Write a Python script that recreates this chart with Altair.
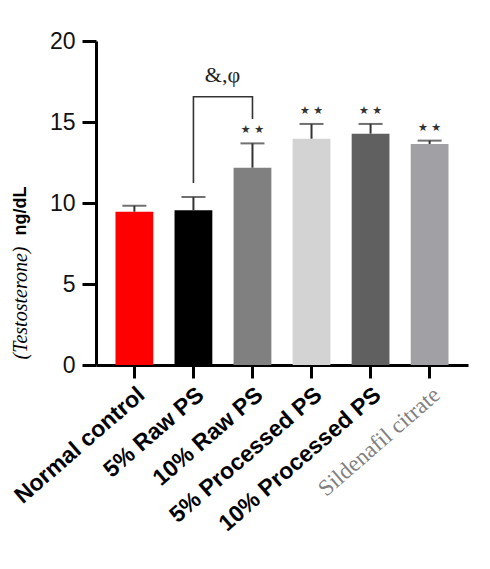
import altair as alt
import pandas as pd

groups = ["Normal control", "5% Raw PS", "10% Raw PS", "5% Processed PS", "10% Processed PS", "Sildenafil citrate"]
means = [9.46, 9.55, 12.18, 13.97, 14.28, 13.64]
sds = [0.37, 0.82, 1.50, 0.91, 0.60, 0.21]
colors = ["#FF0000", "#000000", "#808080", "#D3D3D3", "#606060", "#A1A1A5"]
stars = ["", "", "★ ★", "★ ★", "★ ★", "★ ★"]

bracket_x = ["5% Raw PS", "5% Raw PS", "10% Raw PS", "10% Raw PS"]
bracket_y = [11.23, 16.56, 16.56, 15.18]
bracket_order = [0, 1, 2, 3]
bracket_label = "&,φ"
bracket_label_y = 17.9

title_parts = ["ng/dL", "(Testosterone)"]

df = pd.DataFrame({"group": groups, "mean": means, "sd": sds, "color": colors, "star": stars})
df["upper"] = df["mean"] + df["sd"]
bdf = pd.DataFrame({"group": bracket_x, "y": bracket_y, "o": bracket_order})

xscale = alt.Scale(domain=groups, paddingInner=0.36, paddingOuter=0.33)
yscale = alt.Scale(domain=[0, 20], nice=False)

x = alt.X("group:N", sort=groups, scale=xscale, title=None,
          axis=alt.Axis(labelAngle=-41, labelFontSize=23, labelPadding=5,
                        labelFont={"condition": {"test": "datum.value == 'Sildenafil citrate'", "value": "Liberation Serif"}, "value": "Liberation Sans"},
                        labelFontWeight={"condition": {"test": "datum.value == 'Sildenafil citrate'", "value": "normal"}, "value": "bold"},
                        labelColor={"condition": {"test": "datum.value == 'Sildenafil citrate'", "value": "#808080"}, "value": "#000000"},
                        tickSize=13, tickWidth=3, domainWidth=3, domainColor="black", tickColor="black",
                        labelLimit=300))

bars = alt.Chart(df).mark_bar().encode(
    x=x,
    y=alt.Y("mean:Q", scale=yscale, title=None,
            axis=alt.Axis(values=[0, 5, 10, 15, 20], labelFontSize=23, labelFont="Liberation Sans",
                          labelColor="#111111", tickSize=14, tickWidth=3, domainWidth=3,
                          domainColor="black", tickColor="black", labelPadding=7, grid=False)),
    color=alt.Color("color:N", scale=None),
)

err = alt.Chart(df).mark_rule(color="#333333", strokeWidth=2).encode(
    x=alt.X("group:N", sort=groups, scale=xscale),
    y="mean:Q", y2="upper:Q",
)
caps = alt.Chart(df).mark_tick(color="#333333", thickness=2, size=24, orient="horizontal").encode(
    x=alt.X("group:N", sort=groups, scale=xscale),
    y=alt.Y("upper:Q", scale=yscale),
)
star_text = alt.Chart(df).mark_text(fontSize=11, font="DejaVu Sans", color="#333333", dy=-13, baseline="middle").encode(
    x=alt.X("group:N", sort=groups, scale=xscale),
    y=alt.Y("upper:Q", scale=yscale),
    text="star:N",
)
bracket = alt.Chart(bdf).mark_line(color="#333333", strokeWidth=1.6).encode(
    x=alt.X("group:N", sort=groups, scale=xscale),
    y=alt.Y("y:Q", scale=yscale),
    order="o:Q",
)
blabel = alt.Chart(pd.DataFrame({"group": ["5% Raw PS"], "y": [bracket_label_y], "t": [bracket_label]})).mark_text(
    fontSize=22, font="Liberation Serif", color="#222222", dx=29, baseline="middle").encode(
    x=alt.X("group:N", sort=groups, scale=xscale),
    y=alt.Y("y:Q", scale=yscale),
    text="t:N",
)
t1 = alt.Chart(pd.DataFrame({"t": [title_parts[0]]})).mark_text(
    angle=270, fontSize=18, font="Liberation Sans", fontWeight="bold", color="black", baseline="middle").encode(
    x=alt.value(-75), y=alt.value(170), text="t:N")
t2 = alt.Chart(pd.DataFrame({"t": [title_parts[1]]})).mark_text(
    angle=270, fontSize=20, font="Liberation Serif", fontStyle="italic", color="black", baseline="middle").encode(
    x=alt.value(-75), y=alt.value(262), text="t:N")

chart = alt.layer(bars, err, caps, star_text, bracket, blabel, t1, t2).properties(
    width=372, height=324,
    autosize=alt.AutoSizeParams(type="none"),
    padding={"left": 88, "top": 33, "right": 14, "bottom": 190},
).configure_view(stroke=None).configure_axis(grid=False)

chart.save("out.html", embed_options={"renderer": "svg", "actions": False})
